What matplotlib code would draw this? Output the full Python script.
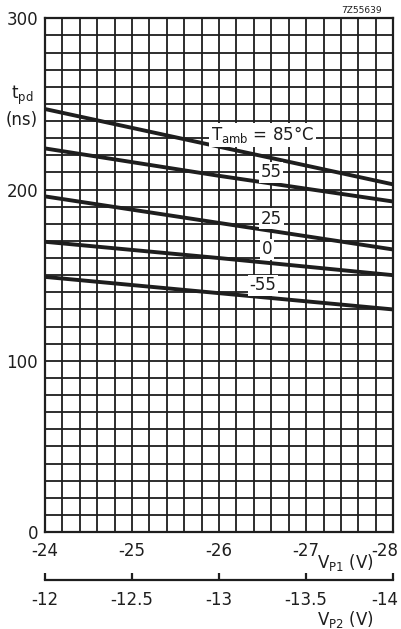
import matplotlib.pyplot as plt
import matplotlib.transforms as mtransforms
import numpy as np

# supply voltage V_P1 (V) and propagation delay t_pd (ns) per ambient temperature
vp1 = [-24, -26, -28]
t_85 = [247, 225, 203]
t_55 = [224, 208, 193]
t_25 = [196, 180.5, 165]
t_0 = [169.5, 160, 150]
t_m55 = [149, 139.5, 130]

curves = [t_85, t_55, t_25, t_0, t_m55]
labels = ['$\\mathregular{T_{amb}}$ = 85°C', '55', '25', '0', '-55']
label_pos = [(-26.5, 232), (-26.6, 210), (-26.6, 183), (-26.55, 165), (-26.5, 144)]

vp2_ticks = [-12, -12.5, -13, -13.5, -14]

ink = '#1e1e1e'
fs = 12
fig = plt.figure(figsize=(4.02, 6.29), dpi=100)
ax = fig.add_axes([0.112, 0.154, 0.866, 0.817])

for c in curves:
    ax.plot(vp1, c, color=ink, lw=2.8, solid_capstyle='butt', zorder=3)

for lab, (x, y) in zip(labels, label_pos):
    ax.text(x, y, lab, fontsize=fs, color=ink, ha='center', va='center', zorder=4,
            bbox=dict(boxstyle='square,pad=0.1', fc='white', ec='none'))

ax.set_xlim(-24, -28)
ax.set_ylim(0, 300)
ax.set_xticks([-24, -25, -26, -27, -28])
ax.set_xticklabels(['-24', '-25', '-26', '-27', '-28'])
ax.set_xticks(np.arange(-24, -28.01, -0.2), minor=True)
ax.set_yticks([0, 100, 200, 300])
ax.set_yticks(np.arange(0, 301, 10), minor=True)
ax.grid(which='both', color=ink, lw=1.3)
ax.tick_params(which='both', length=0, labelsize=fs, colors=ink)
ax.tick_params(axis='x', pad=7)
ax.tick_params(axis='y', pad=5)
for s in ax.spines.values():
    s.set_color(ink)
    s.set_linewidth(1.6)

shift = mtransforms.ScaledTranslation(5 / 100, 0, fig.dpi_scale_trans)
last = ax.get_xticklabels()[-1]
last.set_ha('right')
last.set_transform(last.get_transform() + shift)

fig.text(0.055, 0.848, '$\\mathregular{t_{pd}}$', fontsize=fs, color=ink, ha='center', va='center')
fig.text(0.055, 0.809, '(ns)', fontsize=fs, color=ink, ha='center', va='center')
fig.text(0.86, 0.105, '$\\mathregular{V_{P1}}$ (V)', fontsize=fs, color=ink, ha='center', va='center')
fig.text(0.9, 0.984, '7Z55639', fontsize=6.5, color=ink, ha='center', va='center')

# second scale for V_P2
ax2 = fig.add_axes([0.112, 0.078, 0.866, 0.001])
ax2.set_xlim(-12, -14)
ax2.set_xticks(vp2_ticks)
ax2.set_xticklabels(['-12', '-12.5', '-13', '-13.5', '-14'])
ax2.set_yticks([])
for s in ['top', 'left', 'right']:
    ax2.spines[s].set_visible(False)
ax2.spines['bottom'].set_color(ink)
ax2.spines['bottom'].set_linewidth(1.6)
ax2.tick_params(axis='x', direction='in', length=5, width=1.6, colors=ink, labelsize=fs, pad=8)
ax2.patch.set_visible(False)
last2 = ax2.get_xticklabels()[-1]
last2.set_ha('right')
last2.set_transform(last2.get_transform() + shift)
fig.text(0.86, 0.015, '$\\mathregular{V_{P2}}$ (V)', fontsize=fs, color=ink, ha='center', va='center')

fig.savefig('out.png', dpi=100)
